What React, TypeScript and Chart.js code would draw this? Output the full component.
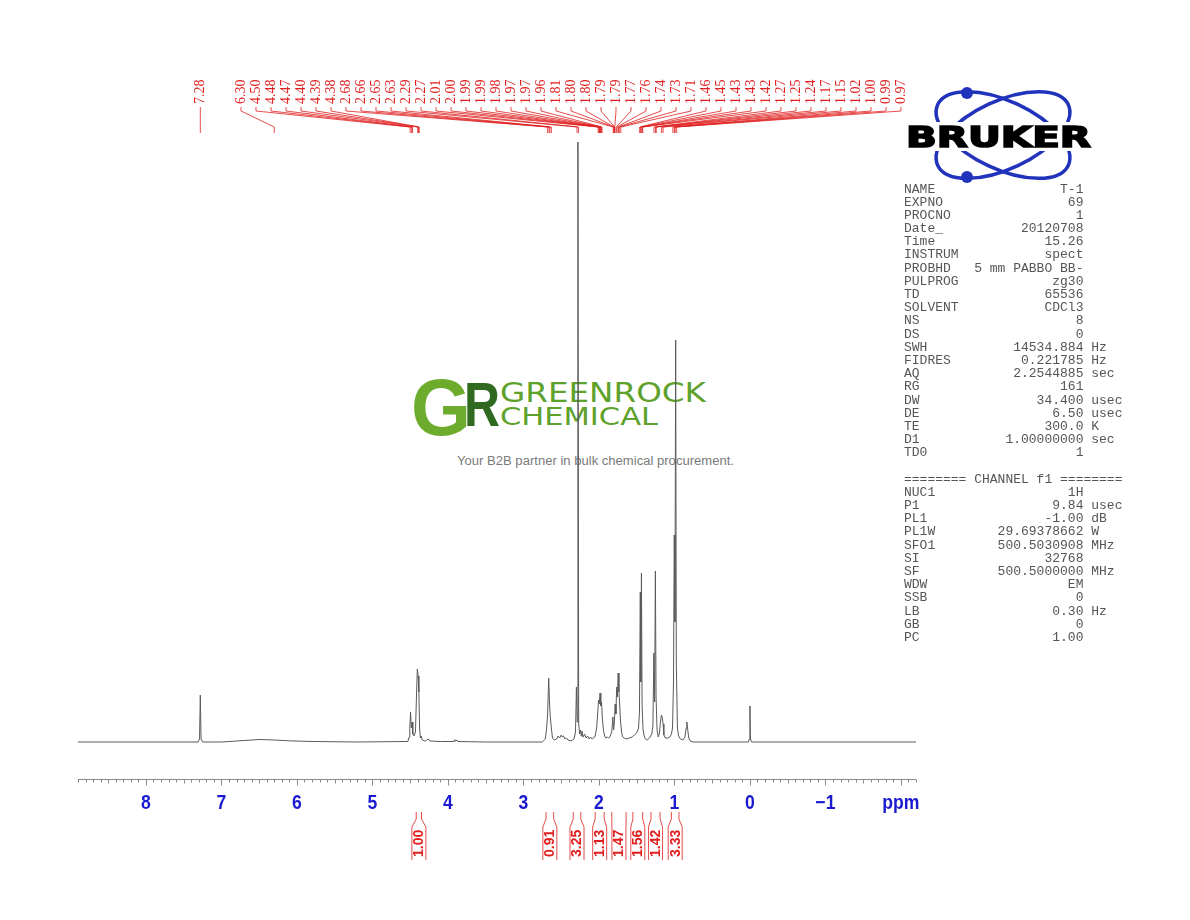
import React, { useEffect, useRef } from "react";
import { Chart, registerables } from "chart.js";

Chart.register(...registerables);

// ---------------- DATA ----------------
// 1H NMR trace: [chemical shift (ppm), relative intensity]
const spectrumTrace: [number, number][] = [
  [8.9, 0], [7.31, 0], [7.29, 3], [7.28, 47], [7.27, 3], [7.25, 0],
  [7.0, 0], [6.8, 1], [6.6, 2], [6.49, 2.5], [6.3, 2], [6.1, 1.2], [5.8, 0.5], [5.2, 0],
  [4.53, 0.5], [4.515, 5], [4.505, 14], [4.495, 30], [4.485, 14], [4.475, 20], [4.465, 8],
  [4.45, 6], [4.43, 10], [4.415, 50], [4.405, 73], [4.395, 66], [4.385, 50], [4.375, 14],
  [4.365, 4], [4.355, 6], [4.34, 2], [4.3, 1], [4.26, 3], [4.24, 1], [4.1, 0.5],
  [3.92, 0.5], [3.91, 2.5], [3.9, 0.5], [3.88, 2], [3.87, 0.5], [3.5, 0],
  [2.75, 0], [2.71, 3], [2.695, 12], [2.68, 27], [2.665, 64], [2.655, 40], [2.645, 26],
  [2.63, 14], [2.615, 4], [2.59, 2], [2.56, 3], [2.54, 6], [2.52, 4], [2.5, 7], [2.485, 5],
  [2.47, 6], [2.45, 3], [2.43, 4], [2.41, 2], [2.37, 1], [2.33, 3], [2.31, 10], [2.298, 55],
  [2.288, 20], [2.278, 600], [2.268, 18], [2.255, 8], [2.245, 12], [2.235, 6], [2.225, 11],
  [2.21, 5], [2.19, 8], [2.17, 4], [2.15, 6], [2.13, 3], [2.11, 5], [2.09, 3], [2.07, 4],
  [2.05, 6], [2.03, 14], [2.015, 30], [2.005, 42], [1.995, 38], [1.985, 49], [1.975, 36],
  [1.965, 40], [1.955, 24], [1.94, 12], [1.925, 6], [1.91, 4], [1.89, 5], [1.87, 4],
  [1.85, 6], [1.83, 10], [1.815, 25], [1.805, 12], [1.795, 20], [1.785, 38], [1.775, 28],
  [1.765, 55], [1.755, 45], [1.745, 69], [1.735, 50], [1.725, 38], [1.715, 22], [1.7, 10],
  [1.685, 5], [1.665, 4], [1.64, 3], [1.6, 4], [1.56, 5], [1.53, 7], [1.5, 9], [1.475, 14],
  [1.463, 30], [1.452, 150], [1.445, 60], [1.437, 169], [1.428, 35], [1.415, 12], [1.4, 6],
  [1.385, 3], [1.36, 2], [1.33, 4], [1.3, 8], [1.285, 16], [1.272, 89], [1.262, 40],
  [1.252, 171], [1.243, 45], [1.23, 12], [1.215, 5], [1.2, 8], [1.185, 20], [1.172, 27],
  [1.16, 24], [1.15, 18], [1.14, 7], [1.12, 4], [1.09, 4], [1.06, 5], [1.04, 8], [1.025, 14],
  [1.012, 60], [1.002, 207], [0.993, 120], [0.983, 402], [0.975, 80], [0.96, 14], [0.945, 6],
  [0.92, 3], [0.89, 2], [0.86, 5], [0.845, 14], [0.835, 20], [0.825, 13], [0.81, 4],
  [0.79, 1], [0.75, 0], [0.02, 0], [0.008, 3], [0.0, 36], [-0.008, 3], [-0.02, 0], [-2.2, 0],
];

const isolatedPeakLabel = 7.28;
const peakLabels = [
  6.3, 4.5, 4.48, 4.47, 4.4, 4.39, 4.38, 2.68, 2.66, 2.65, 2.63, 2.29, 2.27, 2.01, 2.0, 1.99,
  1.99, 1.98, 1.97, 1.97, 1.96, 1.81, 1.8, 1.8, 1.79, 1.79, 1.77, 1.76, 1.74, 1.73, 1.71,
  1.46, 1.45, 1.43, 1.43, 1.42, 1.27, 1.25, 1.24, 1.17, 1.15, 1.02, 1.0, 0.99, 0.97,
];

const integralFrom = [4.42, 2.7, 2.34, 2.05, 1.83, 1.55, 1.31, 1.04];
const integralTo = [4.35, 2.6, 2.24, 1.93, 1.64, 1.42, 1.19, 0.94];
const integralValues = ["1.00", "0.91", "3.25", "1.13", "1.47", "1.56", "1.42", "3.33"];

const axisTickValues = [8, 7, 6, 5, 4, 3, 2, 1, 0, -1, -2];
const axisTickLabels = ["8", "7", "6", "5", "4", "3", "2", "1", "0", "\u22121", "ppm"];
const axisMin = -2.2;
const axisMax = 8.9;

const acqNames = ["NAME", "EXPNO", "PROCNO", "Date_", "Time", "INSTRUM", "PROBHD", "PULPROG", "TD", "SOLVENT", "NS", "DS", "SWH", "FIDRES", "AQ", "RG", "DW", "DE", "TE", "D1", "TD0"];
const acqValues = ["T-1", "69", "1", "20120708", "15.26", "spect", "5 mm PABBO BB-", "zg30", "65536", "CDCl3", "8", "0", "14534.884", "0.221785", "2.2544885", "161", "34.400", "6.50", "300.0", "1.00000000", "1"];
const acqUnits = ["", "", "", "", "", "", "", "", "", "", "", "", "Hz", "Hz", "sec", "", "usec", "usec", "K", "sec", ""];

const chanNames = ["NUC1", "P1", "PL1", "PL1W", "SFO1", "SI", "SF", "WDW", "SSB", "LB", "GB", "PC"];
const chanValues = ["1H", "9.84", "-1.00", "29.69378662", "500.5030908", "32768", "500.5000000", "EM", "0", "0.30", "0", "1.00"];
const chanUnits = ["", "usec", "dB", "W", "MHz", "", "MHz", "", "", "Hz", "", ""];

// ---------------- STYLE ----------------
const RED = "#e01e1e";
const BLUE = "#1a1ad0";
const TRACE = "#5a5a5a";
const LOGO_BLUE = "#2233bb";

function fmtLine(name: string, value: string, unit: string) {
  const pad = Math.max(1, 23 - name.length);
  return name + value.padStart(pad) + (unit ? " " + unit : "");
}

const paramText = [
  ...acqNames.map((n, i) => fmtLine(n, acqValues[i], acqUnits[i])),
  "",
  "======== CHANNEL f1 ========",
  ...chanNames.map((n, i) => fmtLine(n, chanValues[i], chanUnits[i])),
].join("\n");

const annotPlugin = {
  id: "nmrAnnotations",
  afterDraw(chart: any) {
    const ctx: CanvasRenderingContext2D = chart.ctx;
    const xs = chart.scales.x;
    const area = chart.chartArea;
    ctx.save();

    // ---- axis line + ticks
    const yAxis = Math.round(area.bottom) + 0.5;
    ctx.strokeStyle = "#8a8a8a";
    ctx.lineWidth = 1;
    ctx.beginPath();
    ctx.moveTo(area.left, yAxis);
    ctx.lineTo(area.right, yAxis);
    for (let k = Math.ceil(axisMin * 10); k <= Math.floor(axisMax * 10); k++) {
      const px = Math.round(xs.getPixelForValue(k / 10)) + 0.5;
      const len = k % 10 === 0 ? 6 : k % 5 === 0 ? 4 : 3;
      ctx.moveTo(px, yAxis);
      ctx.lineTo(px, yAxis + len);
    }
    ctx.stroke();

    ctx.fillStyle = BLUE;
    ctx.font = 'bold 20px "Liberation Sans", Arial, sans-serif';
    ctx.textAlign = "center";
    ctx.textBaseline = "middle";
    axisTickValues.forEach((v, i) => {
      const px = xs.getPixelForValue(v);
      ctx.save();
      ctx.translate(px, 803);
      ctx.scale(0.88, 1);
      ctx.fillText(axisTickLabels[i], 0, 0);
      ctx.restore();
    });

    // ---- peak labels
    const vertText = (t: string, x: number, yBottom: number) => {
      ctx.save();
      ctx.translate(x, yBottom);
      ctx.rotate(-Math.PI / 2);
      ctx.textAlign = "left";
      ctx.textBaseline = "middle";
      ctx.fillText(t, 0, 0);
      ctx.restore();
    };
    ctx.fillStyle = RED;
    ctx.strokeStyle = RED;
    ctx.lineWidth = 0.8;
    ctx.font = '14px "Liberation Serif", "Times New Roman", serif';
    const p0 = xs.getPixelForValue(isolatedPeakLabel);
    vertText(isolatedPeakLabel.toFixed(2), p0 + 0.5, 104);
    ctx.beginPath();
    ctx.moveTo(p0, 107);
    ctx.lineTo(p0, 133);
    ctx.stroke();
    peakLabels.forEach((p, i) => {
      const lx = 241 + 15 * i;
      const px = xs.getPixelForValue(p);
      vertText(p.toFixed(2), lx + 0.5, 104);
      ctx.beginPath();
      ctx.moveTo(lx, 107);
      ctx.lineTo(lx, 111);
      ctx.lineTo(px, 127);
      ctx.lineTo(px, 133);
      ctx.stroke();
    });

    // ---- integrals
    ctx.font = 'bold 14px "Liberation Sans", Arial, sans-serif';
    ctx.lineWidth = 0.8;
    integralFrom.forEach((f, i) => {
      const x1 = xs.getPixelForValue(f);
      const x2 = xs.getPixelForValue(integralTo[i]);
      const cx = (x1 + x2) / 2;
      const hw = 7;
      ctx.beginPath();
      ctx.moveTo(x1, 812);
      ctx.lineTo(x1, 819);
      ctx.lineTo(cx - hw, 827);
      ctx.lineTo(cx - hw, 860);
      ctx.moveTo(x2, 812);
      ctx.lineTo(x2, 819);
      ctx.lineTo(cx + hw, 827);
      ctx.lineTo(cx + hw, 860);
      ctx.stroke();
      vertText(integralValues[i], cx + 0.5, 857);
    });

    ctx.restore();
  },
};

export default function App() {
  const canvasRef = useRef<HTMLCanvasElement | null>(null);

  useEffect(() => {
    if (!canvasRef.current) return;
    const chart = new Chart(canvasRef.current, {
      type: "line",
      data: {
        datasets: [
          {
            data: spectrumTrace.map(([x, y]) => ({ x, y })),
            borderColor: TRACE,
            borderWidth: 1,
            pointRadius: 0,
            tension: 0,
            fill: false,
          },
        ],
      },
      options: {
        responsive: false,
        animation: false,
        events: [],
        layout: { padding: { left: 78, right: 1190 - 916, top: 130, bottom: 920 - 779 } },
        scales: {
          x: { type: "linear", reverse: true, min: axisMin, max: axisMax, display: false },
          y: { type: "linear", min: -37, max: 612, display: false },
        },
        plugins: { legend: { display: false }, tooltip: { enabled: false } },
      },
      plugins: [annotPlugin],
    } as any);
    return () => chart.destroy();
  }, []);

  return (
    <div style={{ position: "fixed", left: 0, top: 0, width: 1190, height: 920, background: "#fff", overflow: "hidden" }}>
      {/* watermark */}
      <svg width={1190} height={920} style={{ position: "absolute", left: 0, top: 0 }}>
        <text x={411} y={435} fontFamily="'Liberation Sans', Arial" fontWeight="bold" fontSize={80} fill="#6cab2c" textLength={60} lengthAdjust="spacingAndGlyphs">G</text>
        <text x={464} y={426} fontFamily="'Liberation Sans', Arial" fontWeight="bold" fontSize={63} fill="#2f6a20" textLength={36} lengthAdjust="spacingAndGlyphs">R</text>
        <text x={500} y={402} fontFamily="'DejaVu Sans', sans-serif" fontSize={26} fill="#5ea12b" textLength={206} lengthAdjust="spacingAndGlyphs">GREENROCK</text>
        <text x={500} y={425} fontFamily="'DejaVu Sans', sans-serif" fontSize={25} fill="#5ea12b" textLength={158} lengthAdjust="spacingAndGlyphs">CHEMICAL</text>
        <text x={457} y={465} fontFamily="'Liberation Sans', Arial" fontSize={12.5} fill="#7a7a7a" textLength={277} lengthAdjust="spacingAndGlyphs">Your B2B partner in bulk chemical procurement.</text>
      </svg>
      <canvas ref={canvasRef} width={1190} height={920} style={{ position: "absolute", left: 0, top: 0 }} />
      {/* Bruker logo */}
      <svg width={1190} height={920} style={{ position: "absolute", left: 0, top: 0 }}>
        <ellipse cx={1003} cy={135} rx={72} ry={34} transform="rotate(25 1003 135)" fill="none" stroke={LOGO_BLUE} strokeWidth={3.5} />
        <ellipse cx={1003} cy={135} rx={72} ry={34} transform="rotate(-25 1003 135)" fill="none" stroke={LOGO_BLUE} strokeWidth={3.5} />
        <circle cx={967} cy={93} r={6} fill={LOGO_BLUE} />
        <circle cx={967} cy={177} r={6} fill={LOGO_BLUE} />
        <rect x={902} y={122} width={194} height={29} fill="#fff" />
        <text x={906} y={147} fontFamily="'DejaVu Sans', sans-serif" fontWeight="bold" fontSize={28} fill="#000" stroke="#000" strokeWidth={1.6} textLength={185} lengthAdjust="spacingAndGlyphs">BRUKER</text>
      </svg>
      <pre
        style={{
          position: "absolute",
          left: 904,
          top: 182.5,
          margin: 0,
          fontFamily: "'Liberation Mono', 'Courier New', monospace",
          fontSize: 13,
          lineHeight: "13.18px",
          color: "#555",
        }}
      >
        {paramText}
      </pre>
    </div>
  );
}
